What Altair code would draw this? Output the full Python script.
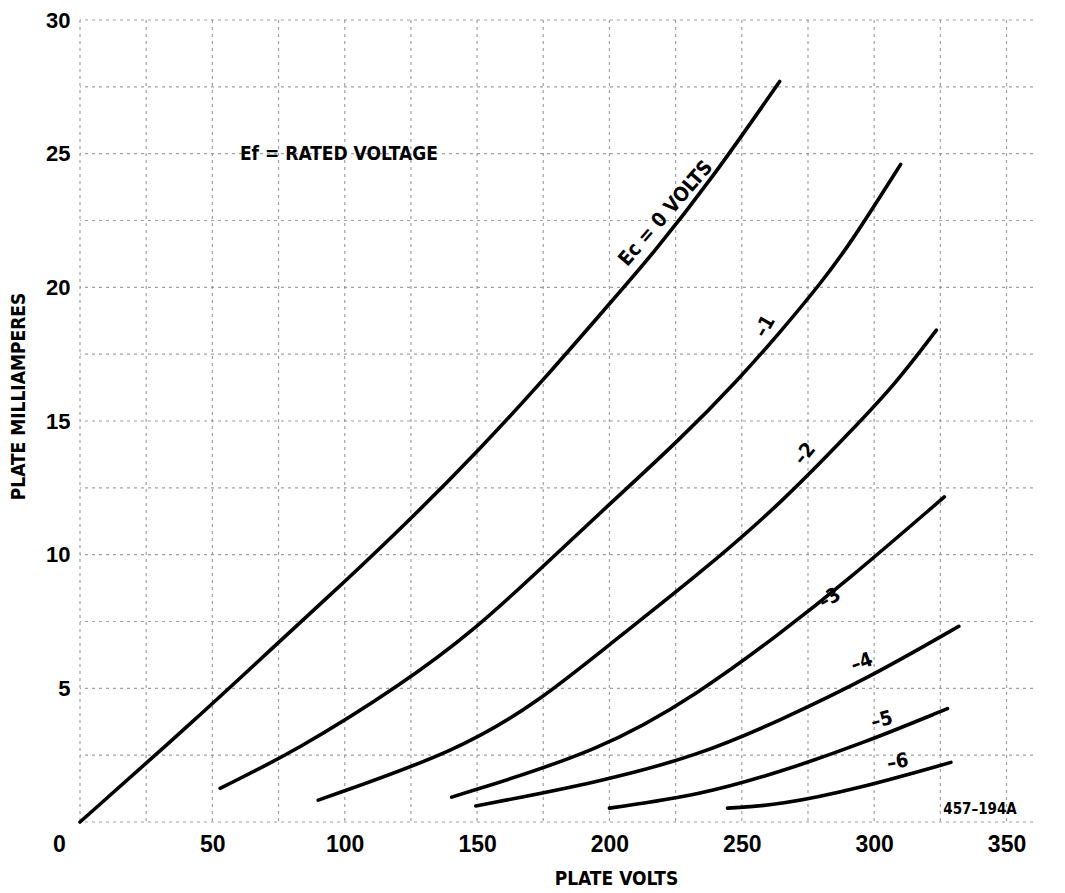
import altair as alt
import pandas as pd

FONT_N = "DejaVu Sans Condensed, Liberation Sans Narrow, Arial Narrow, sans-serif"
FONT_B = "Liberation Sans, Arial, sans-serif"

# ---- plate characteristic curves (plate volts, plate milliamperes) ----
ec0_v = [0, 45.3, 75.5, 99.3, 124.6, 149.9, 174.8, 200.1, 216, 239, 264.3]
ec0_ma = [0, 3.98, 6.77, 8.92, 11.3, 13.83, 16.5, 19.4, 21.2, 24.1, 27.7]

m1_v = [52.9, 81.9, 120.8, 149.9, 174.8, 200.1, 226.6, 249.2, 264.3, 279.4, 290.8, 310]
m1_ma = [1.26, 2.68, 5.09, 7.25, 9.55, 11.9, 14.3, 16.6, 18.3, 20.1, 21.6, 24.6]

m2_v = [90, 143.5, 173.7, 200.1, 234.1, 265.4, 291.8, 308.4, 323.5]
m2_ma = [0.82, 2.68, 4.54, 6.65, 9.29, 11.97, 14.68, 16.43, 18.4]

m3_v = [140.4, 197.4, 234, 264.2, 289.5, 326.5]
m3_ma = [0.93, 2.68, 4.83, 7.03, 9.0, 12.16]

m4_v = [149.5, 196, 234, 264.2, 298, 332]
m4_ma = [0.6, 1.49, 2.5, 3.79, 5.39, 7.32]

m5_v = [200, 234, 264.2, 295.6, 327.7]
m5_ma = [0.52, 1.0, 1.86, 2.94, 4.24]

m6_v = [244.6, 264.2, 294.5, 329]
m6_ma = [0.52, 0.63, 1.26, 2.23]

series = [("0", ec0_v, ec0_ma), ("-1", m1_v, m1_ma), ("-2", m2_v, m2_ma),
          ("-3", m3_v, m3_ma), ("-4", m4_v, m4_ma), ("-5", m5_v, m5_ma),
          ("-6", m6_v, m6_ma)]

# ---- curve labels ----
lab_text = ["Ec = 0 VOLTS", "\u20131", "\u20132", "\u20133", "\u20134", "\u20135", "\u20136"]
lab_v = [221.3, 258.7, 273.8, 283.2, 295.3, 302.9, 308.9]
lab_ma = [22.76, 18.54, 13.77, 8.36, 5.97, 3.81, 2.24]
lab_angle = [311, 300, 310, 330, 340, 345, 350]

# ---- axis ticks / grid ----
x_ticks = [0, 50, 100, 150, 200, 250, 300, 350]
y_ticks = [5, 10, 15, 20, 25, 30]
grid_v = [0, 25, 50, 75, 100, 125, 150, 175, 200, 225, 250, 275, 300, 325, 350]
grid_ma = [0, 2.5, 5, 7.5, 10, 12.5, 15, 17.5, 20, 22.5, 25, 27.5, 30]

note_text = ["Ef = RATED VOLTAGE"]
note_v = [60.4]
note_ma = [25.0]

code_text = ["457\u2013194A"]
code_v = [340]
code_ma = [0.5]

rows = []
for name, vs, ms in series:
    for i, (v, m) in enumerate(zip(vs, ms)):
        rows.append({"ec": name, "v": v, "ma": m, "o": i})
curves_df = pd.DataFrame(rows)
labels_df = pd.DataFrame({"t": lab_text, "v": lab_v, "ma": lab_ma, "a": lab_angle})
gv_df = pd.DataFrame({"v": grid_v})
gm_df = pd.DataFrame({"ma": grid_ma})

xscale = alt.Scale(domain=[0, 360], nice=False, zero=False)
yscale = alt.Scale(domain=[0, 30], nice=False)

xaxis = alt.Axis(values=x_ticks, title="PLATE VOLTS", grid=False, ticks=False, tickSize=0,
                 domain=False, labelFont=FONT_B, labelFontSize=23, labelFontWeight="bold",
                 labelColor="black", labelPadding=11, labelFlush=False,
                 labelOffset=alt.condition("datum.value === 0", alt.value(-21), alt.value(0)),
                 titleFont=FONT_N, titleFontSize=19, titleFontWeight="bold", titleColor="black",
                 titleX=536, titleY=62, titleBaseline="alphabetic", titleAlign="center")
yaxis = alt.Axis(values=y_ticks, title="PLATE MILLIAMPERES", grid=False, ticks=False, tickSize=0,
                 domain=False, labelFont=FONT_B, labelFontSize=22, labelFontWeight="bold",
                 labelColor="black", labelPadding=10, labelFlush=False,
                 titleFont=FONT_N, titleFontSize=19, titleFontWeight="bold", titleColor="black",
                 titleX=-56, titleY=376, titleBaseline="alphabetic", titleAngle=270)

gridx = alt.Chart(gv_df).mark_rule(color="#888888", strokeWidth=1.2, strokeDash=[3, 4], opacity=0.8).encode(
    x=alt.X("v:Q", scale=xscale, axis=xaxis))
gridy = alt.Chart(gm_df).mark_rule(color="#888888", strokeWidth=1.2, strokeDash=[3, 4], opacity=0.8).encode(
    y=alt.Y("ma:Q", scale=yscale, axis=yaxis))

curves = alt.Chart(curves_df).mark_line(color="black", strokeWidth=3.6, interpolate="basis",
                                         strokeCap="round").encode(
    x=alt.X("v:Q", scale=xscale),
    y=alt.Y("ma:Q", scale=yscale),
    detail="ec:N",
    order="o:Q")

labels = alt.Chart(labels_df).mark_text(font=FONT_N, fontSize=20, fontWeight="bold", color="black",
                                         align="center", baseline="middle").encode(
    x=alt.X("v:Q", scale=xscale),
    y=alt.Y("ma:Q", scale=yscale),
    text="t:N",
    angle=alt.Angle("a:Q", scale=None))

note = alt.Chart(pd.DataFrame({"t": note_text, "v": note_v, "ma": note_ma})).mark_text(
    font=FONT_N, fontSize=19, fontWeight="bold", color="black", align="left", baseline="middle").encode(
    x=alt.X("v:Q", scale=xscale), y=alt.Y("ma:Q", scale=yscale), text="t:N")

code = alt.Chart(pd.DataFrame({"t": code_text, "v": code_v, "ma": code_ma})).mark_text(
    font=FONT_N, fontSize=15, fontWeight="bold", color="black", align="center", baseline="middle").encode(
    x=alt.X("v:Q", scale=xscale), y=alt.Y("ma:Q", scale=yscale), text="t:N")

chart = alt.layer(gridx, gridy, curves, labels, note, code).properties(
    width=953, height=802,
    autosize=alt.AutoSizeParams(type="none"),
    padding={"left": 72, "top": 12, "right": 20, "bottom": 70},
    background="white",
).configure_view(stroke=None)

chart.save("out.html", embed_options={"renderer": "svg", "actions": False})
